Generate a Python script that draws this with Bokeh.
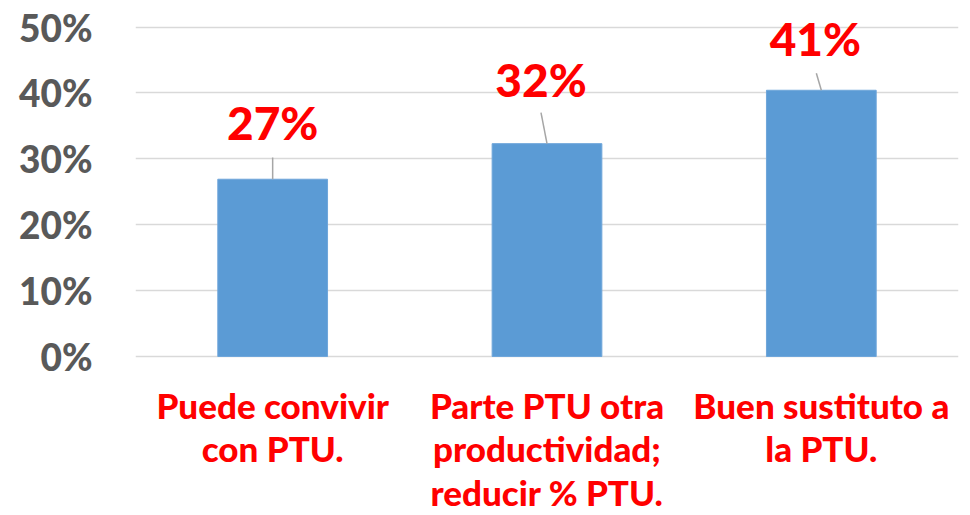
from bokeh.plotting import figure
from bokeh.models import ColumnDataSource, FactorRange, Range1d, FixedTicker, NumeralTickFormatter
from bokeh.core.properties import value
from bokeh.embed import file_html
from bokeh.resources import INLINE

# ---- data ----
categories = ["Puede convivir\ncon PTU.",
              "Parte PTU otra\nproductividad;\nreducir % PTU.",
              "Buen sustituto a\nla PTU."]
values = [0.269, 0.323, 0.404]
value_labels = ["27%", "32%", "41%"]
y_ticks = [0.0, 0.1, 0.2, 0.3, 0.4, 0.5]

# ---- label placement (style, screen pixels) ----
label_lift_px = [56.7, 64.5, 51.8]     # label centre above bar top
label_shift_px = [0, -6, -6]           # label centre horizontal shift
leader_lift_px = [21.7, 31, 17]        # leader top above bar top
leader_shift_px = [0, -6, -5]          # leader top horizontal shift

PX_PER_UNIT_Y = 659.0
PX_PER_CAT = 274.3
CAT_LABEL_Y = -0.042
FONT = "Lato Heavy, Lato"

W, H = 970, 515
p = figure(x_range=FactorRange(factors=categories, range_padding=0),
           y_range=Range1d(-(H - 356) / PX_PER_UNIT_Y, 356 / PX_PER_UNIT_Y),
           width=W, height=H, output_backend="svg", toolbar_location=None,
           min_border_left=135, min_border_right=12, min_border_top=0,
           min_border_bottom=0)
p.outline_line_color = None
p.background_fill_color = "white"
p.border_fill_color = "white"

src = ColumnDataSource(dict(
    cats=categories, vals=values, labels=value_labels,
    lab_y=[v + l / PX_PER_UNIT_Y for v, l in zip(values, label_lift_px)],
    lab_dx=label_shift_px,
))

# bars
p.vbar(x="cats", top="vals", width=0.4, source=src,
       fill_color="#5b9bd5", line_color="#6fa6da", line_width=1)

# leader lines (numeric synthetic coordinates on the categorical range)
centers = [i + 0.5 for i in range(len(categories))]
lead_src = ColumnDataSource(dict(
    x0=centers, y0=values,
    x1=[c + s / PX_PER_CAT for c, s in zip(centers, leader_shift_px)],
    y1=[v + l / PX_PER_UNIT_Y for v, l in zip(values, leader_lift_px)],
))
p.segment(x0="x0", y0="y0", x1="x1", y1="y1", source=lead_src,
          line_color="#a6a6a6", line_width=1.5)

# value labels
p.text(x="cats", y="lab_y", text="labels", source=src,
       x_offset="lab_dx",
       text_font=value(FONT), text_font_style="bold",
       text_font_size="46px", text_color="#ff0000",
       text_align="center", text_baseline="middle")

# category labels (below zero line)
cat_src = ColumnDataSource(dict(cats=categories, y=[CAT_LABEL_Y] * len(categories)))
p.text(x="cats", y="y", text="cats", source=cat_src,
       text_font=value(FONT), text_font_style="bold",
       text_font_size="35px", text_color="#ff0000",
       text_align="center", text_baseline="top", text_line_height=1.03)

# axes / grid
p.xaxis.visible = False
p.xgrid.grid_line_color = None
p.ygrid.ticker = FixedTicker(ticks=y_ticks)
p.ygrid.grid_line_color = "#d9d9d9"
p.ygrid.grid_line_width = 1.5
p.yaxis.ticker = FixedTicker(ticks=y_ticks)
p.yaxis.formatter = NumeralTickFormatter(format="0%")
p.yaxis.axis_line_color = None
p.yaxis.major_tick_line_color = None
p.yaxis.minor_tick_line_color = None
p.yaxis.major_tick_out = 0
p.yaxis.major_tick_in = 0
p.yaxis.major_label_standoff = 43
p.yaxis.major_label_text_font = FONT
p.yaxis.major_label_text_font_style = "bold"
p.yaxis.major_label_text_font_size = "37px"
p.yaxis.major_label_text_color = "#595959"

open("out.html", "w").write(file_html(p, INLINE))
